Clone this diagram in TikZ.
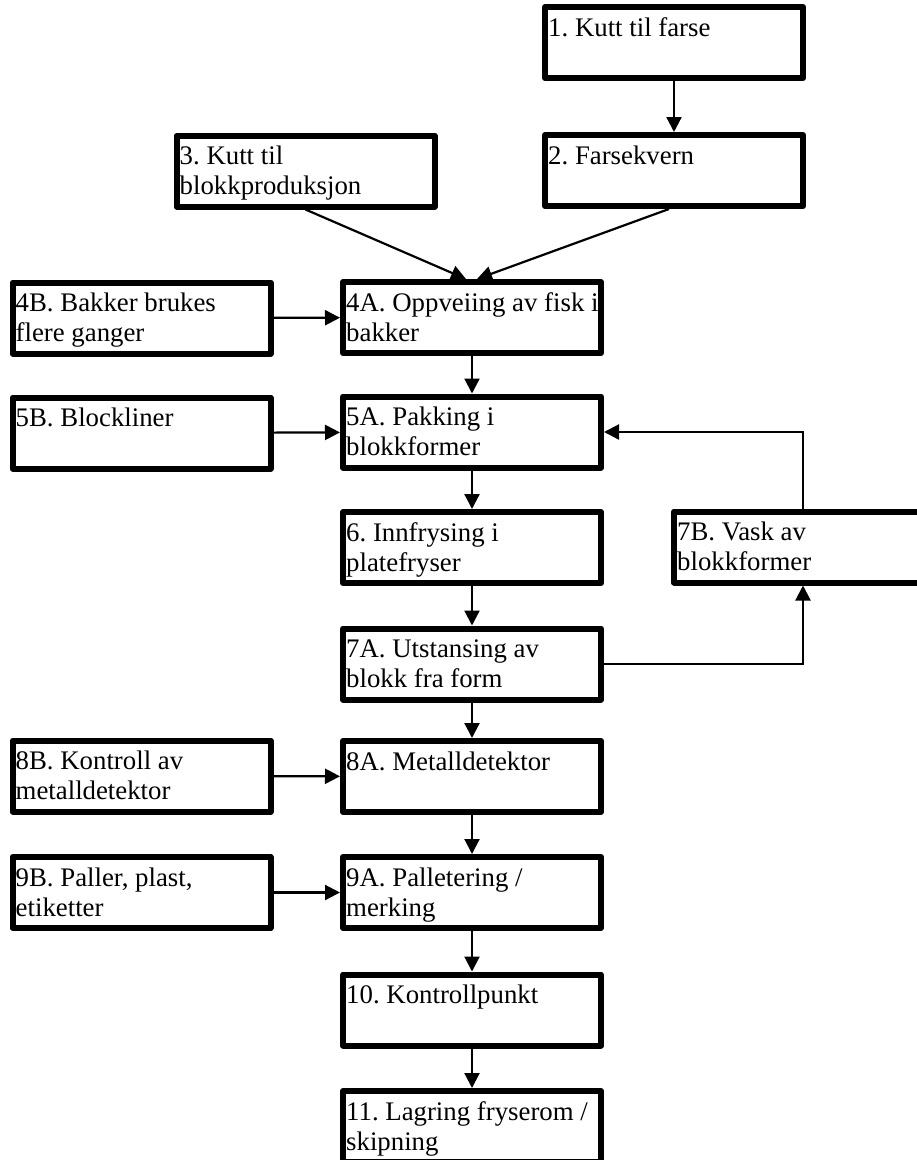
\documentclass[tikz,border=0pt]{standalone}
\usepackage{fontspec}
\setmainfont{Liberation Serif}
\usetikzlibrary{arrows.meta,calc}
\frenchspacing
\tikzset{
  box/.style={draw, line width=6pt, line join=round, minimum width=258pt, minimum height=71pt, inner sep=0pt},
  txt/.style={anchor=north west, inner sep=0pt, align=left, font=\fontsize{26.8}{30}\selectfont},
  conn/.style={line width=2.2pt, -{Triangle[length=15pt,width=15pt]}}
}
\newcommand{\fl}{\rule{0pt}{20pt}}
\begin{document}
\begin{tikzpicture}[x=1pt,y=-1pt]
\useasboundingbox (0,0) rectangle (917,1160);
\clip (0,0) rectangle (917,1160);
% boxes
\node[box] (n1)  at (674,42.5) {};
\node[box] (n2)  at (674,170.5) {};
\node[box] (n3)  at (305.5,171) {};
\node[box] (n4b) at (141.5,318) {};
\node[box] (n4a) at (472,317.5) {};
\node[box] (n5b) at (141.5,433) {};
\node[box] (n5a) at (472,432) {};
\node[box] (n6)  at (472,547.5) {};
\node[box] (n7b) at (803,547) {};
\node[box] (n7a) at (472,664) {};
\node[box] (n8b) at (141.5,776) {};
\node[box] (n8a) at (472,776.5) {};
\node[box] (n9b) at (141.5,892.5) {};
\node[box] (n9a) at (472,892.5) {};
\node[box] (n10) at (472,1010) {};
\node[box] (n11) at (472,1126.5) {};
% texts
\node[txt] (t1)  at ($(n1.north west)+(6,12)$)  {\fl 1. Kutt til farse};
\node[txt] (t2)  at ($(n2.north west)+(6,12)$)  {\fl 2. Farsekvern};
\node[txt] (t3)  at ($(n3.north west)+(6,12)$)  {\fl 3. Kutt til\\blokkproduksjon};
\node[txt] (t4b) at ($(n4b.north west)+(6,12)$) {\fl 4B. Bakker brukes\\flere ganger};
\node[txt] (t4a) at ($(n4a.north west)+(6,12)$) {\fl 4A. Oppveiing av fisk i\\bakker};
\node[txt] (t5b) at ($(n5b.north west)+(6,12)$) {\fl 5B. Blockliner};
\node[txt] (t5a) at ($(n5a.north west)+(6,12)$) {\fl 5A. Pakking i\\blokkformer};
\node[txt] (t6)  at ($(n6.north west)+(6,12)$)  {\fl 6. Innfrysing i\\platefryser};
\node[txt] (t7b) at ($(n7b.north west)+(6,12)$) {\fl 7B. Vask av\\blokkformer};
\node[txt] (t7a) at ($(n7a.north west)+(6,12)$) {\fl 7A. Utstansing av\\blokk fra form};
\node[txt] (t8b) at ($(n8b.north west)+(6,12)$) {\fl 8B. Kontroll av\\metalldetektor};
\node[txt] (t8a) at ($(n8a.north west)+(6,12)$) {\fl 8A. Metalldetektor};
\node[txt] (t9b) at ($(n9b.north west)+(6,12)$) {\fl 9B. Paller, plast,\\etiketter};
\node[txt] (t9a) at ($(n9a.north west)+(6,12)$) {\fl 9A. Palletering /\\merking};
\node[txt] (t10) at ($(n10.north west)+(6,12)$) {\fl 10. Kontrollpunkt};
\node[txt] (t11) at ($(n11.north west)+(6,12)$) {\fl 11. Lagring fryserom /\\skipning};
% connectors
\draw[conn] (n1) -- (n2);
\draw[conn] (n3.south) -- ($(n4a.north)+(-6,0)$);
\draw[conn] ($(n2.south)+(-5,0)$) -- ($(n4a.north)+(5,0)$);
\draw[conn] (n4b) -- (n4a);
\draw[conn] (n4a) -- (n5a);
\draw[conn] (n5b) -- (n5a);
\draw[conn] (n5a) -- (n6);
\draw[conn] (n6) -- (n7a);
\draw[conn] (n7a.east) -| (n7b.south);
\draw[conn] (n7b.north) |- (n5a.east);
\draw[conn] (n7a) -- (n8a);
\draw[conn] (n8b) -- (n8a);
\draw[conn] (n8a) -- (n9a);
\draw[conn] (n9b) -- (n9a);
\draw[conn] (n9a) -- (n10);
\draw[conn] (n10) -- (n11);
\end{tikzpicture}
\end{document}
